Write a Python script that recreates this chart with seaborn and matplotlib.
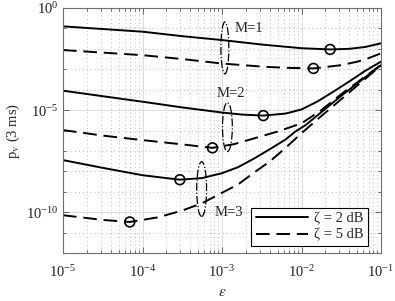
import numpy as np
import pandas as pd
import matplotlib
matplotlib.use("Agg")
import matplotlib.pyplot as plt
from matplotlib.patches import Ellipse
from matplotlib.ticker import LogLocator, NullFormatter
import seaborn as sns

# ---- data (log10 values) ----
m1_z2_leps = [-5, -4.5, -4, -3.5, -3, -2.5, -2, -1.64, -1.4, -1.2, -1]
m1_z2_lp = [-0.90, -1.03, -1.16, -1.38, -1.57, -1.79, -1.97, -2.03, -2.00, -1.91, -1.73]

m1_z5_leps = [-5, -4, -3.5, -3, -2.5, -2.2, -1.85, -1.5, -1.3, -1.2, -1]
m1_z5_lp = [-2.06, -2.31, -2.50, -2.72, -2.87, -2.93, -2.96, -2.80, -2.63, -2.52, -2.22]

m2_z2_leps = [-5, -4.5, -4, -3.5, -3, -2.75, -2.48, -2.2, -2, -1.8, -1.6, -1.4, -1.2, -1]
m2_z2_lp = [-4.05, -4.32, -4.59, -4.87, -5.12, -5.22, -5.27, -5.17, -4.97, -4.58, -4.10, -3.60, -3.08, -2.63]

m2_z5_leps = [-5, -4.5, -4, -3.5, -3.12, -2.85, -2.6, -2.3, -2.0, -1.75, -1.5, -1.25, -1]
m2_z5_lp = [-5.98, -6.25, -6.47, -6.68, -6.85, -6.67, -6.39, -6.05, -5.65, -5.00, -4.22, -3.50, -2.79]

m3_z2_leps = [-5, -4.5, -4, -3.53, -3.25, -3, -2.8, -2.6, -2.4, -2.2, -2.08, -1.95, -1.75, -1.5, -1.25, -1]
m3_z2_lp = [-7.45, -7.83, -8.19, -8.41, -8.33, -8.09, -7.80, -7.38, -6.92, -6.44, -6.06, -5.74, -5.10, -4.30, -3.55, -2.80]

m3_z5_leps = [-5, -4.5, -4.16, -3.8, -3.5, -3.25, -3.0, -2.8, -2.6, -2.4, -2.2, -2.0, -1.75, -1.5, -1.25, -1]
m3_z5_lp = [-10.15, -10.38, -10.48, -10.25, -9.92, -9.56, -9.05, -8.65, -8.07, -7.52, -6.85, -6.13, -5.29, -4.47, -3.64, -2.82]

# optimum points (circles)
opt_leps = [-1.64, -1.85, -2.48, -3.12, -3.53, -4.16]
opt_lp = [-2.03, -2.96, -5.27, -6.85, -8.41, -10.48]

legend_labels = ["ζ = 2 dB", "ζ = 5 dB"]
m_labels = ["M=1", "M=2", "M=3"]

# ---- style ----
sns.set_style("ticks")
plt.rcParams["font.family"] = ["Liberation Serif", "DejaVu Serif"]
plt.rcParams["mathtext.fontset"] = "stix"
plt.rcParams["font.size"] = 10

fig = plt.figure(figsize=(3.95, 3.01), dpi=100)
ax = fig.add_axes([63/395, 48/301, 318/395, 245/301])
ax.set_xscale("log")
ax.set_yscale("log")

curves = [
    (m1_z2_leps, m1_z2_lp, "-", legend_labels[0]),
    (m1_z5_leps, m1_z5_lp, "--", legend_labels[1]),
    (m2_z2_leps, m2_z2_lp, "-", None),
    (m2_z5_leps, m2_z5_lp, "--", None),
    (m3_z2_leps, m3_z2_lp, "-", None),
    (m3_z5_leps, m3_z5_lp, "--", None),
]
lw = 1.4
for le, lp, ls, lab in curves:
    df = pd.DataFrame({"eps": 10.0 ** np.array(le), "p": 10.0 ** np.array(lp)})
    kw = dict(color="k", linewidth=lw, ax=ax, sort=True)
    if ls == "--":
        kw["dashes"] = False
    line_ax = sns.lineplot(data=df, x="eps", y="p", label=lab, **kw)
    ln = ax.get_lines()[-1]
    if ls == "--":
        ln.set_dashes((7, 3.5))

opt_df = pd.DataFrame({"eps": 10.0 ** np.array(opt_leps), "p": 10.0 ** np.array(opt_lp)})
sns.scatterplot(data=opt_df, x="eps", y="p", ax=ax, s=50, facecolor="none",
                edgecolor="k", linewidth=1.2, zorder=5, legend=False)

ax.set_xlim(1e-5, 1e-1)
ax.set_ylim(1e-12, 1e0)
ax.set_xticks([1e-5, 1e-4, 1e-3, 1e-2, 1e-1])
ax.set_yticks([1e-10, 1e-5, 1e0])
ax.xaxis.set_minor_locator(LogLocator(base=10, subs=np.arange(2, 10), numticks=20))
ax.yaxis.set_minor_locator(LogLocator(base=10, subs=[1.0], numticks=30))
ax.xaxis.set_minor_formatter(NullFormatter())
ax.yaxis.set_minor_formatter(NullFormatter())

ax.grid(True, which="major", color="#dcdcdc", linewidth=0.7, linestyle="-")
ax.grid(True, which="minor", color="#bdbdbd", linewidth=0.7, linestyle=(0, (1, 3)))
ax.set_axisbelow(True)

ax.tick_params(which="both", direction="in", top=True, right=True,
               color="#555555", labelcolor="#222222", labelsize=10.5)
ax.tick_params(which="major", length=4, width=0.6)
ax.tick_params(which="minor", length=2.5, width=0.6)
ax.tick_params(axis="x", pad=8)
for sp in ax.spines.values():
    sp.set_color("#6e6e6e")
    sp.set_linewidth(0.8)

ax.set_xlabel(r"$\epsilon$", fontsize=11, labelpad=4)
ax.set_ylabel(r"p$_{\mathrm{v}}$ (3 ms)", fontsize=10.5, labelpad=3)

# annotations: dash-dot ellipses and M labels
ells = [((0.509, 0.837), 0.025, 0.212), ((0.517, 0.514), 0.031, 0.20), ((0.436, 0.261), 0.031, 0.224)]
for (c, w, h) in ells:
    ax.add_patch(Ellipse(c, w, h, transform=ax.transAxes, fill=False,
                         edgecolor="k", linewidth=0.9, linestyle="-.", zorder=6))
txt_pos = [(0.541, 0.918), (0.484, 0.649), (0.478, 0.167)]
for (tx, ty), t in zip(txt_pos, m_labels):
    ax.text(tx, ty, t, transform=ax.transAxes, ha="left", va="center", fontsize=10.5, zorder=7)

leg = ax.legend(loc="lower right", bbox_to_anchor=(0.959, 0.0286), borderaxespad=0,
                frameon=True, fancybox=False, framealpha=1, edgecolor="k",
                handlelength=3.6, handletextpad=0.4, borderpad=0.3, labelspacing=0.2,
                fontsize=10.5)
leg.get_frame().set_linewidth(0.8)
for h in leg.get_lines():
    h.set_linewidth(1.4)

fig.savefig("out.png", dpi=100)
